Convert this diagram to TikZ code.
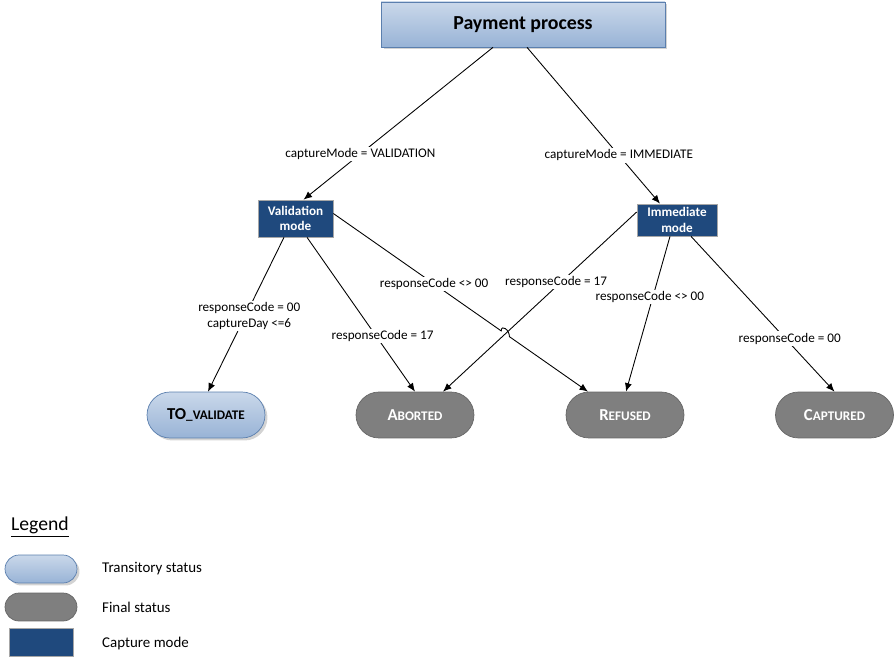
\documentclass[tikz,border=0pt]{standalone}
\usepackage{fontspec}
\setmainfont{Carlito}
\usepackage{tikz}
\usetikzlibrary{arrows.meta,shadows,calc}
\definecolor{paleblue}{HTML}{CAD8EA}
\definecolor{midblue}{HTML}{98B3D6}
\definecolor{edgeblue}{HTML}{5B7FAE}
\definecolor{modeblue}{HTML}{1F497D}
\definecolor{finalgray}{HTML}{7F7F7F}

\newcommand{\fakesc}[2]{{\fontsize{9.5}{11}\selectfont #1}{\fontsize{7.5}{9}\selectfont #2}}

\tikzset{
  lbl/.style={fill=white, inner sep=1pt, font=\fontsize{7.5}{9}\selectfont, align=center},
  modebox/.style={draw=gray!70, fill=modeblue, text=white, align=center, inner sep=1pt,
    font=\bfseries\fontsize{7.5}{9}\selectfont},
  transit/.style={draw=edgeblue, top color=paleblue, bottom color=midblue, rounded corners=0.46cm,
    minimum width=2.36cm, minimum height=0.92cm, font=\bfseries,
    drop shadow={shadow xshift=0.05cm, shadow yshift=-0.05cm, opacity=0.35}},
  final/.style={draw=gray!80!black, fill=finalgray, text=white, rounded corners=0.46cm,
    minimum width=2.36cm, minimum height=0.92cm, font=\bfseries},
  conn/.style={-{Latex[length=1.7mm,width=1.4mm]}, line width=0.5pt}
}

\begin{document}
\begin{tikzpicture}[x=0.02cm, y=-0.02cm]
  \useasboundingbox (0,0) rectangle (895,661);

  % root
  \node[draw=edgeblue, top color=paleblue, bottom color=midblue, minimum width=5.68cm, minimum height=0.9cm,
    drop shadow={shadow xshift=0.05cm, shadow yshift=-0.05cm, opacity=0.35},
    font=\bfseries\fontsize{11.3}{13}\selectfont] (pay) at (523,24.5) {Payment process};

  % capture modes
  \node[modebox, minimum width=1.5cm, minimum height=0.74cm] (vm) at (295.5,218.5) {Validation\\mode};
  \node[modebox, minimum width=1.6cm, minimum height=0.64cm] (im) at (677,220) {Immediate\\mode};

  % statuses
  \node[transit] (tv) at (206,415) {\fakesc{TO}{\_VALIDATE}};
  \node[final] (ab) at (415,415) {\fakesc{A}{BORTED}};
  \node[final] (re) at (625,415) {\fakesc{R}{EFUSED}};
  \node[final] (ca) at (834.5,415) {\fakesc{C}{APTURED}};

  % payment process -> modes
  \draw[conn] ([xshift=-0.6cm]pay.south) -- node[lbl,pos=0.7] {captureMode = VALIDATION} ([xshift=0.16cm]vm.north);
  \draw[conn] ([xshift=0.08cm]pay.south) -- node[lbl,pos=0.69] {captureMode = IMMEDIATE} ([xshift=-0.34cm]im.north);

  % validation mode
  \draw[conn] ([xshift=-0.23cm]vm.south) -- node[lbl,pos=0.51,xshift=0.08cm] {responseCode = 00\\captureDay <=6} ([xshift=0.04cm]tv.north);
  \draw[conn] ([xshift=0.23cm]vm.south) -- node[lbl,pos=0.64,xshift=0.13cm] {responseCode = 17} (ab.north);

  % immediate mode
  \coordinate (imL) at ([yshift=0.16cm]im.west);
  \coordinate (abR) at ([xshift=0.56cm]ab.north);
  \draw[conn] (imL) -- node[lbl,pos=0.39,xshift=-0.1cm] {responseCode = 17} (abR);
  \draw[conn] ([xshift=-0.14cm]im.south) -- node[lbl,pos=0.39,xshift=-0.06cm] {responseCode <> 00} ([xshift=0.02cm]re.north);
  \draw[conn] ([xshift=0.28cm]im.south) -- node[lbl,pos=0.66,xshift=0.08cm] {responseCode = 00} (ca.north);

  % validation -> refused, hopping over the other line
  \coordinate (vmR) at ([yshift=0.1cm]vm.east);
  \coordinate (reL) at ([xshift=-0.74cm]re.north);
  \coordinate (cx) at (intersection of vmR--reL and imL--abR);
  \draw[conn] (vmR) -- node[lbl,pos=0.6] {responseCode <> 00} ($(cx)!0.1cm!(vmR)$)
    .. controls +(0,-7) and +(0,-7) .. ($(cx)!0.1cm!(reL)$) -- (reL);

  % legend
  \node[font=\fontsize{11.2}{13}\selectfont] (legend) at (40,527) {\underline{Legend}};
  \node[transit, minimum width=1.44cm, minimum height=0.56cm, rounded corners=0.28cm] (lgT) at (41,569) {};
  \node[final, minimum width=1.44cm, minimum height=0.56cm, rounded corners=0.28cm] (lgF) at (41,607) {};
  \node[modebox, minimum width=1.28cm, minimum height=0.56cm] (lgC) at (41,642) {};
  \node[right, font=\fontsize{8.5}{10}\selectfont] (lgTt) at (96,569) {Transitory status};
  \node[right, font=\fontsize{8.5}{10}\selectfont] (lgFt) at (96,607) {Final status};
  \node[right, font=\fontsize{8.5}{10}\selectfont] (lgCt) at (96,644) {Capture mode};
\end{tikzpicture}
\end{document}
